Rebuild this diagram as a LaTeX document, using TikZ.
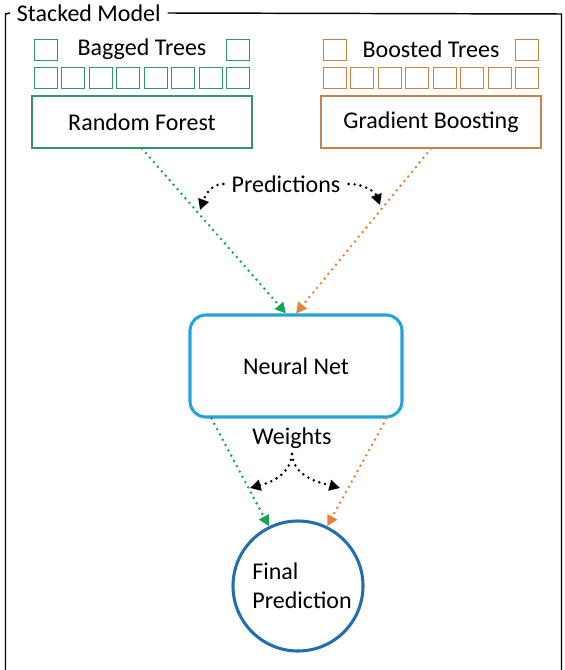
\documentclass[tikz,border=0pt]{standalone}
\usepackage{fontspec}
\setmainfont{Carlito}
\usepackage{xcolor}
\usepackage{tikz}
\definecolor{baggreen}{RGB}{51, 150, 105}
\definecolor{boostorange}{RGB}{200, 130, 72}
\definecolor{predgreen}{RGB}{20, 165, 85}
\definecolor{predorange}{RGB}{232, 128, 55}
\definecolor{netblue}{RGB}{35, 165, 220}
\definecolor{finalblue}{RGB}{35, 110, 175}
\usetikzlibrary{arrows.meta, positioning, calc}

\begin{document}
\begin{tikzpicture}[
    x=0.75pt, y=0.75pt,
    font=\fontsize{18}{22}\selectfont,
    tree/.style={rectangle, draw, line width=0.8pt, minimum width=17.4pt, minimum height=15.4pt, inner sep=0pt},
    box/.style={rectangle, draw, line width=0.9pt, minimum width=165pt, minimum height=39pt, align=center},
    netbox/.style={rectangle, draw=netblue, line width=2.3pt, rounded corners=12pt, minimum width=159pt, minimum height=76.5pt, align=center},
    finalnode/.style={circle, draw=finalblue, line width=2.3pt, minimum size=97.5pt, inner sep=0pt, align=left},
    modelframe/.style={line width=1.1pt},
    arrow/.style={-{Triangle[length=8pt, width=8pt]}, line width=2.1pt, line cap=round, dash pattern=on 0pt off 4.5pt}
]
    \useasboundingbox (0, 0) rectangle (564, -670);

    \node[anchor=west, inner sep=5pt] (title) at (10, -13) {Stacked Model};
    \draw[modelframe] (title.west) -- (5.5, -14) -- (5.5, -672);
    \draw[modelframe] (title.east) -- (561.5, -14) -- (561.5, -672);

    \foreach \i in {1,...,8} {
        \node[tree, draw=baggreen] (bag\i) at ({32+27.5*(\i-0.5)}, -78) {};
        \node[tree, draw=boostorange] (boost\i) at ({321+27.5*(\i-0.5)}, -78) {};
    }
    \node[tree, draw=baggreen] (bagl) at (45.75, -50) {};
    \node[tree, draw=baggreen] (bagr) at (238.25, -50) {};
    \node[tree, draw=boostorange] (boostl) at (334.75, -50) {};
    \node[tree, draw=boostorange] (boostr) at (527.25, -50) {};
    \node (bagtxt) at (142, -49) {Bagged Trees};
    \node (boosttxt) at (431, -49) {Boosted Trees};

    \node[box, draw=baggreen] (rf) at (142, -122) {Random Forest};
    \node[box, draw=boostorange] (gb) at (431, -122) {Gradient Boosting};
    \node[netbox] (nn) at (296, -366) {Neural Net};
    \node[finalnode] (fp) at (298, -586) {\hspace*{6pt}Final\\\hspace*{6pt}Prediction};

    \node[inner sep=6pt] (pred) at (286, -184) {Predictions};
    \node[inner sep=4pt] (wt) at (292, -438) {Weights};
    \coordinate (predl) at (200, -210);
    \coordinate (predr) at (380, -205);
    \coordinate (wtl) at (250, -488);
    \coordinate (wtr) at (340, -488);

    \draw[arrow, predgreen] (rf.south) -- ($(nn.north)+(-10, 0)$);
    \draw[arrow, predorange] (gb.south) -- (nn.north);
    \draw[arrow, predgreen] ($(nn.south west)+(23, 0)$) -- (fp.116);
    \draw[arrow, predorange] ($(nn.south east)+(-17, 0)$) -- (fp.64);

    \draw[arrow] (pred.west) to[out=180, in=70] (predl);
    \draw[arrow] (pred.east) to[out=0, in=110] (predr);
    \draw[arrow] (wt.south) to[out=-95, in=15] (wtl);
    \draw[arrow] (wt.south) to[out=-85, in=165] (wtr);
\end{tikzpicture}
\end{document}
